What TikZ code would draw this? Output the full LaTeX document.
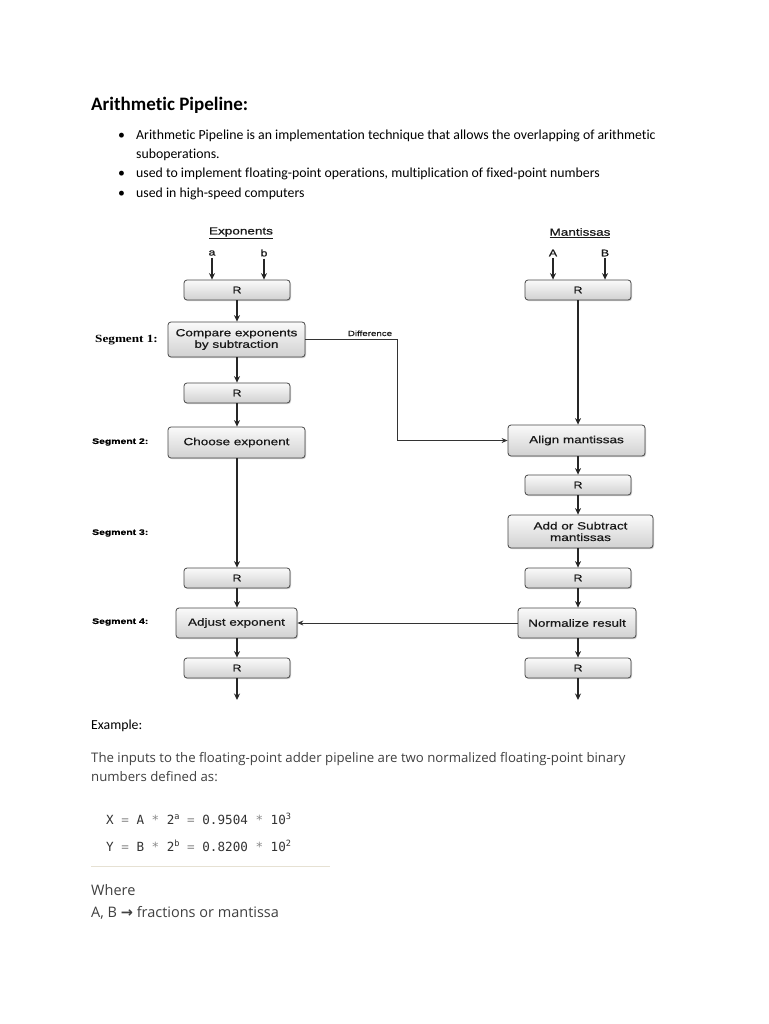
\documentclass[tikz,border=0pt]{standalone}
\usepackage{fontspec}
\setmainfont[Ligatures=NoCommon]{Carlito}
\newfontfamily\diagfont[FakeStretch=1.3,FakeBold=0.6]{Liberation Sans}
\newfontfamily\segserfont[FakeStretch=1.2]{Liberation Serif}
\newfontfamily\bodyfont[Ligatures=NoCommon]{Open Sans}
\newfontfamily\codefont{DejaVu Sans Mono}
\newfontfamily\arrfont{DejaVu Sans}
\usetikzlibrary{arrows.meta,shadows}
\definecolor{bodygray}{HTML}{404040}
\definecolor{codegray}{HTML}{333333}
\definecolor{oppgray}{HTML}{8A8A8A}
\definecolor{rulecol}{HTML}{E6E1D3}
\newcommand\fs[1]{\fontsize{#1}{#1}\selectfont}
\newcommand\codesup[1]{\raisebox{4.6pt}{\fs{8.6}#1}}
\newcommand\op[1]{\textcolor{oppgray}{#1}}
\tikzset{
  pbox/.style={draw=black!72, line width=0.8pt, rounded corners=3pt, top color=gray!4, bottom color=gray!36,
    drop shadow={shadow xshift=1pt, shadow yshift=-1.2pt, opacity=0.35},
    align=center, inner sep=1pt, font=\diagfont\fontsize{10.4}{11.5}\selectfont, text=black!90},
  rbox/.style={pbox, minimum width=106pt, minimum height=20pt, font=\diagfont\fs{9.5}},
  conn/.style={draw=black!85, line width=1.2pt, -{Stealth[length=6.5pt,width=6pt]}},
  thin conn/.style={draw=black!80, line width=0.8pt},
  inlabel/.style={font=\diagfont\fs{9.5}, inner sep=0pt, text=black!90},
  seglabel/.style={font=\diagfont\bfseries\fs{8}, anchor=west, inner sep=0pt},
  txt/.style={anchor=base west, inner sep=0pt},
}
\begin{document}
\begin{tikzpicture}[x=1pt,y=-1pt]
\path[use as bounding box, fill=white] (0,0) rectangle (768,1024);

% header text
\node[txt, font=\bfseries\fs{19}] (title) at (91,111) {Arithmetic Pipeline:};
\node[txt, font=\fs{13.8}] (bl1) at (118,140) {\textbullet};
\node[txt, font=\fs{13.8}] (t1) at (136,140) {Arithmetic Pipeline is an implementation technique that allows the overlapping of arithmetic};
\node[txt, font=\fs{13.8}] (t1b) at (136,159) {suboperations.};
\node[txt, font=\fs{13.8}] (bl2) at (118,178) {\textbullet};
\node[txt, font=\fs{13.8}] (t2) at (136,178) {used to implement floating-point operations, multiplication of fixed-point numbers};
\node[txt, font=\fs{13.8}] (bl3) at (118,198) {\textbullet};
\node[txt, font=\fs{13.8}] (t3) at (136,198) {used in high-speed computers};

% column headers
\node[inlabel, font=\diagfont\fs{10.4}] (expo) at (241,233) {\underline{Exponents}};
\node[inlabel, font=\diagfont\fs{10.4}] (mant) at (580,233) {\underline{Mantissas}};
\node[inlabel] (ia) at (212,253) {a};
\node[inlabel] (ib) at (264,253) {b};
\node[inlabel] (iA) at (553,253) {A};
\node[inlabel] (iB) at (605,253) {B};

% left column
\node[rbox] (rA) at (237,290) {R};
\node[pbox, minimum width=137pt, minimum height=35pt] (cmp) at (236.5,339.5) {Compare exponents\\by subtraction};
\node[rbox] (rB) at (237,393) {R};
\node[pbox, minimum width=137pt, minimum height=31pt] (chs) at (236.5,442.5) {Choose exponent};
\node[rbox] (rC) at (237,578) {R};
\node[pbox, minimum width=121pt, minimum height=30pt] (adj) at (236.5,623) {Adjust exponent};
\node[rbox] (rD) at (237,668) {R};

% right column
\node[rbox] (rE) at (578,290) {R};
\node[pbox, minimum width=137pt, minimum height=31pt] (aln) at (576.5,440.5) {Align mantissas};
\node[rbox] (rF) at (578,485) {R};
\node[pbox, minimum width=145pt, minimum height=33pt] (add) at (580.5,531.5) {Add or Subtract\\mantissas};
\node[rbox] (rG) at (578,578) {R};
\node[pbox, minimum width=118pt, minimum height=30pt] (nrm) at (577,623) {Normalize result};
\node[rbox] (rH) at (578,668) {R};

% segment labels
\node[seglabel, font=\segserfont\bfseries\fs{11}] (s1) at (95,340) {Segment 1:};
\node[seglabel] (s2) at (92,442) {Segment 2:};
\node[seglabel] (s3) at (92,533) {Segment 3:};
\node[seglabel] (s4) at (92,622) {Segment 4:};

% input arrows
\draw[conn] (ia.south) ++(0,2) -- (ia.south |- rA.north);
\draw[conn] (ib.south) ++(0,2) -- (ib.south |- rA.north);
\draw[conn] (iA.south) ++(0,2) -- (iA.south |- rE.north);
\draw[conn] (iB.south) ++(0,2) -- (iB.south |- rE.north);

% left flow
\draw[conn] (rA.south) -- (rA.south |- cmp.north);
\draw[conn] (rA.south |- cmp.south) -- (rB.north);
\draw[conn] (rB.south) -- (rB.south |- chs.north);
\draw[conn] (rB.south |- chs.south) -- (rC.north);
\draw[conn] (rC.south) -- (rC.south |- adj.north);
\draw[conn] (rC.south |- adj.south) -- (rD.north);
\coordinate (outL) at (237,700);
\draw[conn] (rD.south) -- (outL);

% right flow
\draw[conn] (rE.south) -- (rE.south |- aln.north);
\draw[conn] (rE.south |- aln.south) -- (rF.north);
\draw[conn] (rF.south) -- (rF.south |- add.north);
\draw[conn] (rF.south |- add.south) -- (rG.north);
\draw[conn] (rG.south) -- (rG.south |- nrm.north);
\draw[conn] (rG.south |- nrm.south) -- (rH.north);
\coordinate (outR) at (578,700);
\draw[conn] (rH.south) -- (outR);

% difference link
\coordinate (dk) at (397,0);
\draw[thin conn, -{Stealth[length=6pt,width=5pt]}] (cmp.east) -- (cmp.east -| dk) |- (aln.west);
\node[inlabel, font=\diagfont\fs{7.5}, anchor=base] (diff) at (370,336) {Difference};

% normalize -> adjust
\draw[thin conn, -{Stealth[length=6pt,width=5pt]}] (nrm.west) -- (adj.east);

% example text
\node[txt, font=\fs{13.8}] (ex) at (91,729) {Example:};
\node[txt, font=\bodyfont\fs{13.2}, text=bodygray] (p1) at (91,762) {The inputs to the floating-point adder pipeline are two normalized floating-point binary};
\node[txt, font=\bodyfont\fs{13.2}, text=bodygray] (p2) at (91,781) {numbers defined as:};
\node[txt, font=\codefont\fs{12.6}, text=codegray] (c1) at (106,824) {X \op{=} A \op{*} 2\codesup{a} \op{=} 0.9504 \op{*} 10\codesup{3}};
\node[txt, font=\codefont\fs{12.6}, text=codegray] (c2) at (106,851) {Y \op{=} B \op{*} 2\codesup{b} \op{=} 0.8200 \op{*} 10\codesup{2}};
\coordinate (hr1) at (91,866);
\coordinate (hr2) at (330,866);
\draw[rulecol, line width=1pt] (hr1) -- (hr2);
\node[txt, font=\bodyfont\fs{14.5}, text=bodygray] (w1) at (91,895) {Where};
\node[txt, font=\bodyfont\fs{14.5}, text=bodygray] (w2) at (91,917) {A, B {\arrfont\bfseries →} fractions or mantissa};
\end{tikzpicture}
\end{document}
